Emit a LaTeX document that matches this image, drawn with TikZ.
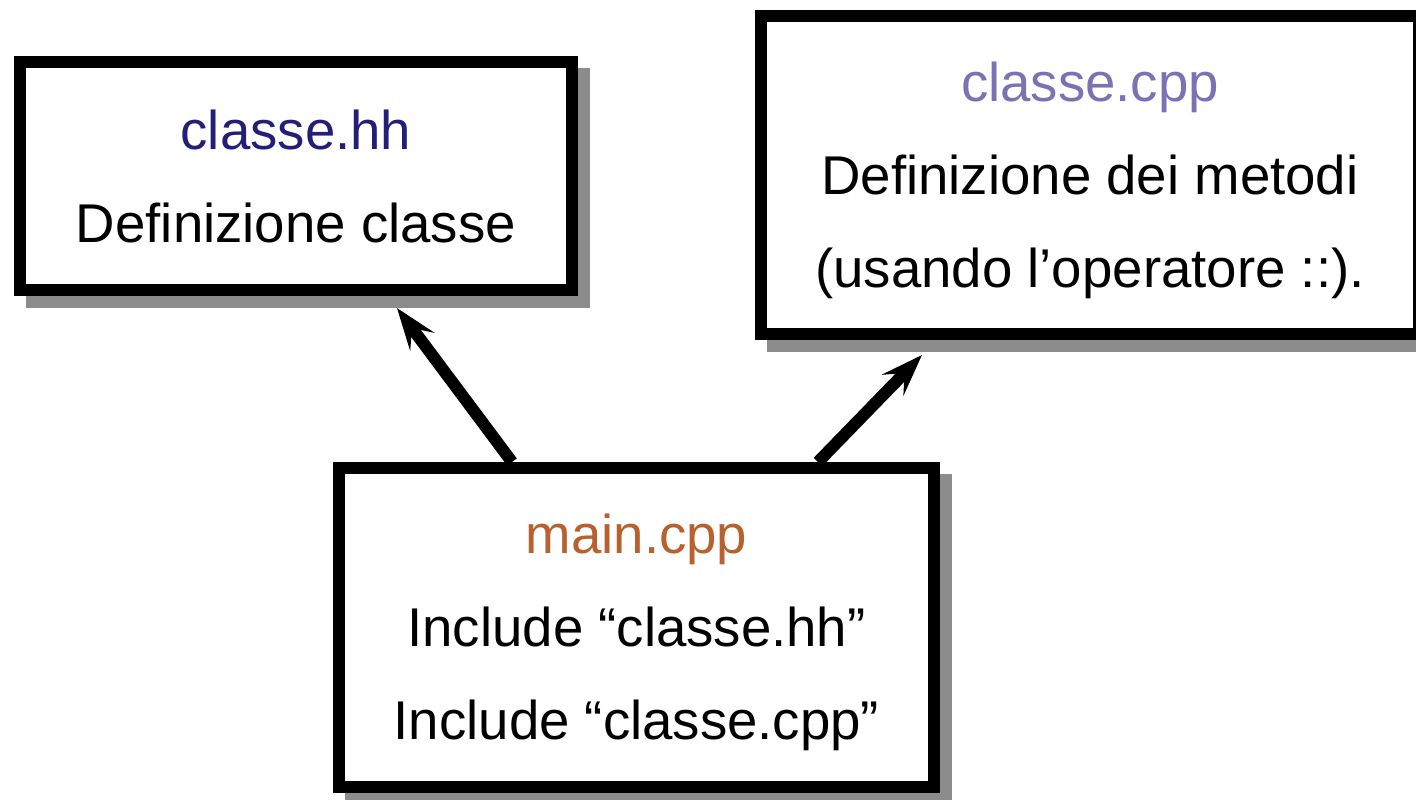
\documentclass[tikz,border=0pt]{standalone}
\usepackage{fontspec}
\setmainfont{Liberation Sans}
\usetikzlibrary{arrows.meta,shadows,calc}
\definecolor{shadowgray}{HTML}{8C8C8C}
\definecolor{hhcol}{HTML}{231F78}
\definecolor{cppcol}{HTML}{7B72B4}
\definecolor{maincol}{HTML}{B8612F}
\tikzset{
  filebox/.style={draw=black, line width=12pt, fill=white, align=center,
    font=\fontsize{54.6}{93}\selectfont, inner sep=0pt,
    drop shadow={shadow xshift=12pt, shadow yshift=-12pt, fill=shadowgray,
      draw=shadowgray, line width=12pt, opacity=1}},
  incl/.style={line width=12pt, -{Stealth[length=42pt,width=30pt,inset=17pt]}}
}
\begin{document}
\begin{tikzpicture}[x=1pt,y=-1pt]
\useasboundingbox (0,0) rectangle (1416,800);
\node[filebox, minimum width=552pt, minimum height=228pt] (hh) at (296,176)
  {\textcolor{hhcol}{classe.hh}\\Definizione classe};
\node[filebox, minimum width=658pt, minimum height=318pt] (cpp) at (1090,175)
  {\rule{0pt}{50pt}\textcolor{cppcol}{classe.cpp}\\Definizione dei metodi\\(usando l’operatore ::).};
\node[filebox, minimum width=595pt, minimum height=319pt] (main) at (636.5,627.5)
  {\rule{0pt}{50pt}\textcolor{maincol}{main.cpp}\\Include “classe.hh”\\Include “classe.cpp”};
\coordinate (s1) at ($(main.north west)+(179,0)$);
\coordinate (e1) at ($(hh.south west)+(383,12)$);
\coordinate (s2) at ($(main.north west)+(485,0)$);
\coordinate (e2) at ($(cpp.south west)+(167,15)$);
\draw[incl] (s1) -- (e1);
\draw[incl] (s2) -- (e2);
\end{tikzpicture}
\end{document}
